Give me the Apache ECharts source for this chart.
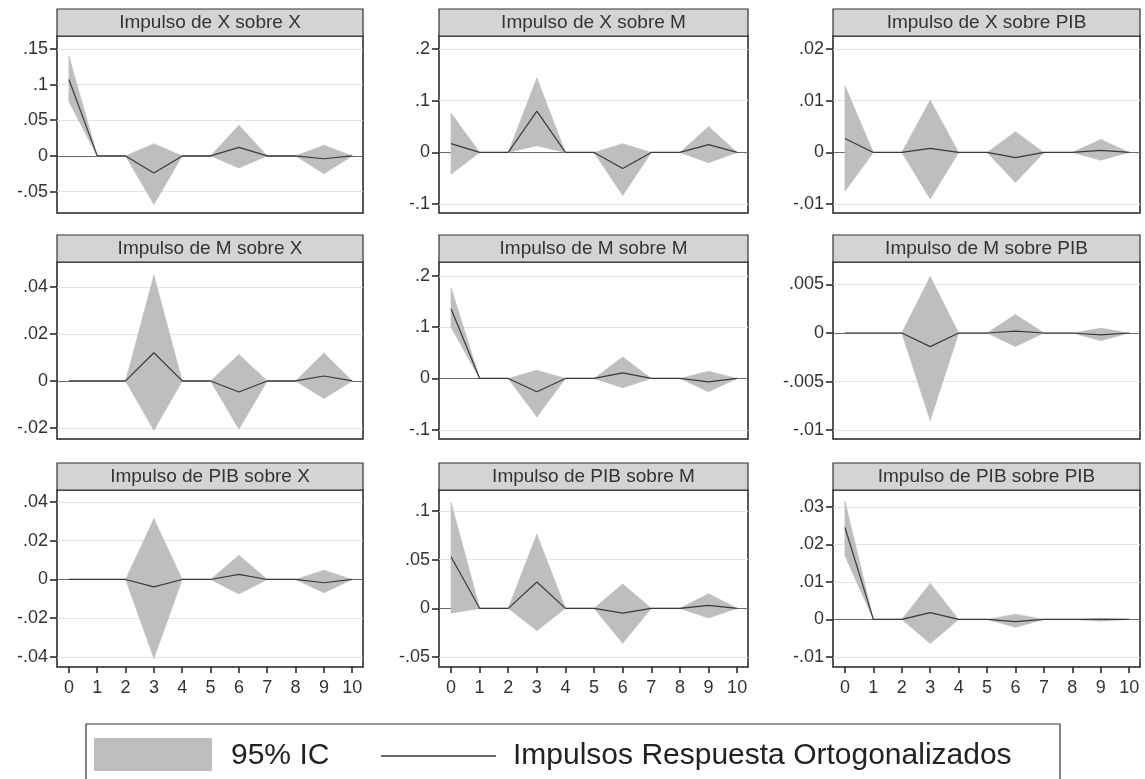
<!DOCTYPE html>
<html>
<head>
<meta charset="utf-8">
<script src="https://cdn.jsdelivr.net/npm/echarts@6/dist/echarts.min.js"></script>
<style>
  html, body { margin: 0; padding: 0; background: #fff; }
  #chart { width: 1145px; height: 779px; }
</style>
</head>
<body>
<div id="chart"></div>
<script>
// horizon steps
const steps = [0, 1, 2, 3, 4, 5, 6, 7, 8, 9, 10]
const xTicks = [0, 1, 2, 3, 4, 5, 6, 7, 8, 9, 10]

// impulse X -> X
const irfXX = [0.107, 0, 0, -0.024, 0, 0, 0.012, 0, 0, -0.004, 0]
const loXX = [0.076, 0, 0, -0.068, 0, 0, -0.017, 0, 0, -0.025, 0]
const hiXX = [0.140, 0, 0, 0.017, 0, 0, 0.043, 0, 0, 0.015, 0]
// impulse X -> M
const irfXM = [0.017, 0, 0, 0.080, 0, 0, -0.031, 0, 0, 0.015, 0]
const loXM = [-0.042, 0, 0, 0.013, 0, 0, -0.083, 0, 0, -0.020, 0]
const hiXM = [0.076, 0, 0, 0.144, 0, 0, 0.017, 0, 0, 0.050, 0]
// impulse X -> PIB
const irfXP = [0.0027, 0, 0, 0.0008, 0, 0, -0.001, 0, 0, 0.0004, 0]
const loXP = [-0.0075, 0, 0, -0.009, 0, 0, -0.0058, 0, 0, -0.0015, 0]
const hiXP = [0.0129, 0, 0, 0.0101, 0, 0, 0.004, 0, 0, 0.0025, 0]
// impulse M -> X
const irfMX = [0, 0, 0, 0.012, 0, 0, -0.0047, 0, 0, 0.0021, 0]
const loMX = [0, 0, 0, -0.021, 0, 0, -0.0205, 0, 0, -0.0075, 0]
const hiMX = [0, 0, 0, 0.045, 0, 0, 0.0113, 0, 0, 0.0119, 0]
// impulse M -> M
const irfMM = [0.136, 0, 0, -0.026, 0, 0, 0.011, 0, 0, -0.0065, 0]
const loMM = [0.100, 0, 0, -0.075, 0, 0, -0.018, 0, 0, -0.026, 0]
const hiMM = [0.177, 0, 0, 0.016, 0, 0, 0.042, 0, 0, 0.014, 0]
// impulse M -> PIB
const irfMP = [0, 0, 0, -0.0014, 0, 0, 0.0002, 0, 0, -0.0002, 0]
const loMP = [0, 0, 0, -0.009, 0, 0, -0.0014, 0, 0, -0.0008, 0]
const hiMP = [0, 0, 0, 0.0058, 0, 0, 0.0019, 0, 0, 0.0005, 0]
// impulse PIB -> X
const irfPX = [0, 0, 0, -0.0038, 0, 0, 0.0026, 0, 0, -0.0017, 0]
const loPX = [0, 0, 0, -0.0407, 0, 0, -0.0075, 0, 0, -0.0069, 0]
const hiPX = [0, 0, 0, 0.0314, 0, 0, 0.0125, 0, 0, 0.0048, 0]
// impulse PIB -> M
const irfPM = [0.053, 0, 0, 0.027, 0, 0, -0.005, 0, 0, 0.003, 0]
const loPM = [-0.005, 0, 0, -0.023, 0, 0, -0.036, 0, 0, -0.010, 0]
const hiPM = [0.109, 0, 0, 0.076, 0, 0, 0.025, 0, 0, 0.015, 0]
// impulse PIB -> PIB
const irfPP = [0.0245, 0, 0, 0.0018, 0, 0, -0.0006, 0, 0, 0, 0]
const loPP = [0.017, 0, 0, -0.0064, 0, 0, -0.0021, 0, 0, -0.0005, 0]
const hiPP = [0.0316, 0, 0, 0.0096, 0, 0, 0.0014, 0, 0, 0.0003, 0]

// y tick labels per panel
const yTicksXX = [-0.05, 0, 0.05, 0.1, 0.15]
const yTicksXM = [-0.1, 0, 0.1, 0.2]
const yTicksXP = [-0.01, 0, 0.01, 0.02]
const yTicksMX = [-0.02, 0, 0.02, 0.04]
const yTicksMM = [-0.1, 0, 0.1, 0.2]
const yTicksMP = [-0.01, -0.005, 0, 0.005]
const yTicksPX = [-0.04, -0.02, 0, 0.02, 0.04]
const yTicksPM = [-0.05, 0, 0.05, 0.1]
const yTicksPP = [-0.01, 0, 0.01, 0.02, 0.03]

const titles = [
  'Impulso de X sobre X', 'Impulso de X sobre M', 'Impulso de X sobre PIB',
  'Impulso de M sobre X', 'Impulso de M sobre M', 'Impulso de M sobre PIB',
  'Impulso de PIB sobre X', 'Impulso de PIB sobre M', 'Impulso de PIB sobre PIB',
]

const panels = [
  { irf: irfXX, lo: loXX, hi: hiXX, ticks: yTicksXX, min: -0.080, max: 0.168 },
  { irf: irfXM, lo: loXM, hi: hiXM, ticks: yTicksXM, min: -0.117, max: 0.225 },
  { irf: irfXP, lo: loXP, hi: hiXP, ticks: yTicksXP, min: -0.0117, max: 0.0225 },
  { irf: irfMX, lo: loMX, hi: hiMX, ticks: yTicksMX, min: -0.0247, max: 0.0506 },
  { irf: irfMM, lo: loMM, hi: hiMM, ticks: yTicksMM, min: -0.118, max: 0.227 },
  { irf: irfMP, lo: loMP, hi: hiMP, ticks: yTicksMP, min: -0.0109, max: 0.0073 },
  { irf: irfPX, lo: loPX, hi: hiPX, ticks: yTicksPX, min: -0.0452, max: 0.0462 },
  { irf: irfPM, lo: loPM, hi: hiPM, ticks: yTicksPM, min: -0.0603, max: 0.1216 },
  { irf: irfPP, lo: loPP, hi: hiPP, ticks: yTicksPP, min: -0.0127, max: 0.0345 },
]

// layout of the 3x3 panels
const colLeft = [57, 439, 833]
const colWidth = [306, 309, 307]
const rowTop = [36, 262, 490]
const plotHeight = 177
const titleHeight = 27

const FONT = '"Liberation Sans", Arial, sans-serif'
const textColor = '#333'
const bandColor = '#bebebe'

const fmt = (v) => String(+v.toFixed(4)).replace(/^(-?)0\./, '$1.')

// one quad per step interval: [x0, lo0, hi0, x1, lo1, hi1]
function bandSegments(p) {
  const out = []
  for (let k = 0; k < steps.length - 1; k++) {
    out.push([steps[k], p.lo[k], p.hi[k], steps[k + 1], p.lo[k + 1], p.hi[k + 1]])
  }
  return out
}

function renderBand(params, api) {
  const a = api.coord([api.value(0), api.value(2)])
  const b = api.coord([api.value(3), api.value(5)])
  const c = api.coord([api.value(3), api.value(4)])
  const d = api.coord([api.value(0), api.value(1)])
  return {
    type: 'polygon',
    shape: { points: [a, b, c, d] },
    style: { fill: bandColor, stroke: bandColor, lineWidth: 0.6 },
  }
}

const grids = []
const xAxes = []
const yAxes = []
const series = []
const graphics = []

panels.forEach((p, i) => {
  const row = Math.floor(i / 3)
  const col = i % 3
  const bottomRow = row === 2

  grids.push({
    left: colLeft[col],
    top: rowTop[row],
    width: colWidth[col],
    height: plotHeight,
    show: true,
    borderColor: '#222',
    borderWidth: 1.5,
    backgroundColor: '#fff',
  })

  xAxes.push({
    type: 'value',
    gridIndex: i,
    position: 'bottom',
    min: -0.42,
    max: 10.38,
    axisLine: { show: false, onZero: false },
    axisTick: {
      show: bottomRow,
      length: 6,
      customValues: xTicks,
      lineStyle: { color: '#222', width: 1.5 },
    },
    axisLabel: {
      show: bottomRow,
      customValues: xTicks,
      fontSize: 18,
      fontFamily: FONT,
      color: textColor,
      margin: 12,
    },
    splitLine: { show: false },
  })

  yAxes.push({
    type: 'value',
    gridIndex: i,
    position: 'left',
    min: p.min,
    max: p.max,
    axisLine: { show: false, onZero: false },
    axisTick: {
      show: true,
      length: 7,
      customValues: p.ticks,
      lineStyle: { color: '#222', width: 1.5 },
    },
    axisLabel: {
      customValues: p.ticks,
      fontSize: 18,
      fontFamily: FONT,
      color: textColor,
      margin: 9,
      formatter: fmt,
    },
    splitLine: { show: true, lineStyle: { color: '#e4e4e4', width: 1 } },
  })

  series.push({
    type: 'custom',
    xAxisIndex: i,
    yAxisIndex: i,
    data: bandSegments(p),
    renderItem: renderBand,
    clip: true,
    silent: true,
    z: 2,
  })
  series.push({
    type: 'line',
    xAxisIndex: i,
    yAxisIndex: i,
    data: steps.map((s, k) => [s, p.irf[k]]),
    symbol: 'none',
    lineStyle: { color: '#3a3a3a', width: 1.2 },
    silent: true,
    z: 3,
    markLine: {
      silent: true,
      symbol: 'none',
      label: { show: false },
      lineStyle: { color: '#6a6a6a', width: 1, type: 'solid' },
      data: [{ yAxis: 0 }],
      z: 1,
    },
  })

  // title bar above each panel
  graphics.push({
    type: 'rect',
    shape: { x: colLeft[col], y: rowTop[row] - titleHeight, width: colWidth[col], height: titleHeight },
    style: { fill: '#d4d4d4', stroke: '#333', lineWidth: 1.2 },
    z: 10,
  })
  graphics.push({
    type: 'text',
    x: colLeft[col] + colWidth[col] / 2,
    y: rowTop[row] - titleHeight / 2,
    style: {
      text: titles[i],
      font: '19px ' + FONT,
      fill: textColor,
      align: 'center',
      verticalAlign: 'middle',
    },
    z: 11,
  })
})

// legend box at the bottom
graphics.push(
  {
    type: 'rect',
    shape: { x: 86, y: 724, width: 974, height: 70 },
    style: { fill: '#fff', stroke: '#333', lineWidth: 1.2 },
    z: 10,
  },
  {
    type: 'rect',
    shape: { x: 94, y: 738, width: 118, height: 33 },
    style: { fill: bandColor },
    z: 11,
  },
  {
    type: 'text',
    x: 231,
    y: 756,
    style: { text: '95% IC', font: '30px ' + FONT, fill: '#222', verticalAlign: 'middle' },
    z: 11,
  },
  {
    type: 'line',
    shape: { x1: 381, y1: 756, x2: 496, y2: 756 },
    style: { stroke: '#333', lineWidth: 1.5 },
    z: 11,
  },
  {
    type: 'text',
    x: 513,
    y: 756,
    style: { text: 'Impulsos Respuesta Ortogonalizados', font: '30px ' + FONT, fill: '#222', verticalAlign: 'middle' },
    z: 11,
  }
)

const chart = echarts.init(document.getElementById('chart'), null, { renderer: 'canvas' })
chart.setOption({
  animation: false,
  backgroundColor: '#fff',
  grid: grids,
  xAxis: xAxes,
  yAxis: yAxes,
  series,
  graphic: graphics,
})
</script>
</body>
</html>
